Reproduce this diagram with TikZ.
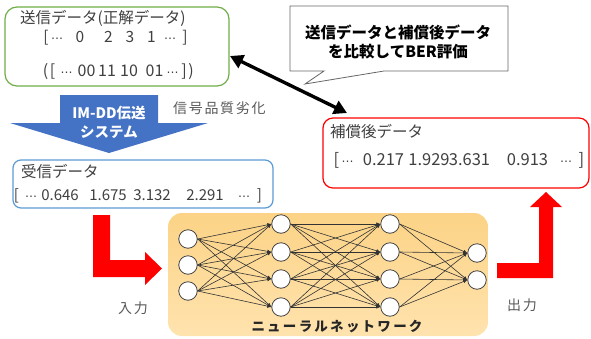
\documentclass[tikz,border=0pt]{standalone}
\usepackage{fontspec}
\setmainfont{Noto Sans CJK JP}
\newfontfamily\jpwide[LetterSpace=12]{Noto Sans CJK JP}
\newfontfamily\dejavu{DejaVu Sans}
\usetikzlibrary{arrows.meta}
\definecolor{grn}{HTML}{70AD47}
\definecolor{bluebox}{HTML}{5B9BD5}
\definecolor{bluearrow}{HTML}{4472C4}
\definecolor{txtgray}{HTML}{404040}
\definecolor{lblgray}{HTML}{595959}
\definecolor{nntop}{HTML}{FCD386}
\definecolor{nnbot}{HTML}{FFE3AE}
\newcommand\dotsmid{{\dejavu\fontsize{12}{14}\selectfont ⋯}}
\tikzset{
  txt/.style={inner sep=0pt, anchor=west, text=txtgray, font=\fontsize{15.5}{17}\selectfont},
  tok/.style={inner sep=0pt, anchor=base, text=txtgray},
  lbl/.style={inner sep=0pt, text=lblgray, font=\jpwide\fontsize{14}{16}\selectfont},
  frame/.style={line width=1.2pt, fill=white},
  neuron/.style={circle, draw=black!75, fill=white, line width=0.8pt, minimum size=18.5pt, inner sep=0pt},
  syn/.style={draw=black!80, line width=0.6pt, -{Latex[length=4pt,width=3.5pt]}},
  redarrow/.style={fill=red, draw=none},
}
\begin{document}
\begin{tikzpicture}[x=1pt,y=-1pt]
\useasboundingbox (0,0) rectangle (591,338);

% green box: transmitted data
\draw[frame, draw=grn, rounded corners=12pt] (5,7) rectangle (229,86);
\node (sendbox) at (117,46.5) {};
\node[txt] (sendtitle) at (20,18) {送信データ(正解データ)};
\foreach \k/\x/\t in {1/46/{[},2/57/{\dotsmid},3/80/0,4/108.5/2,5/130/3,6/151.5/1,7/170/{\dotsmid},8/185/{]}}
  \node[tok, font=\fontsize{15.5}{17}\selectfont] (sv\k) at (\x,42.5) {\t};
\foreach \k/\x/\t in {1/45.5/{(},2/52.5/{[},3/66.5/{\dotsmid},4/86.5/00,5/107/11,6/129/10,7/154.5/01,8/172.5/{\dotsmid},9/184/{]},10/191/{)}}
  \node[tok, font=\fontsize{16}{18}\selectfont] (sb\k) at (\x,76) {\t};

% callout
\draw[draw=black!60, line width=0.8pt, fill=white]
  (290,6) -- (508,6) -- (508,71) -- (384,71) -- (305,84) -- (324,71) -- (290,71) -- cycle;
\node[inner sep=0pt, align=center, font=\bfseries\fontsize{15.5}{19.5}\selectfont, text=black] (callout) at (398,42)
  {送信データと補償後データ\\を比較してBER評価};

% blue block arrow
\draw[fill=bluearrow, draw=none] (60,95) -- (158,95) -- (158,123) -- (208,123) -- (109,153) -- (10,123) -- (60,123) -- cycle;
\node[inner sep=0pt, align=center, text=white, font=\bfseries\fontsize{14.5}{19}\selectfont] (imdd) at (109,122)
  {IM-DD伝送\\システム};
\node[lbl, anchor=west] (degr) at (173,108) {信号品質劣化};

% blue box: received data
\draw[frame, draw=bluebox, rounded corners=8pt] (13,160) rectangle (273,208);
\node (recvbox) at (143,184) {};
\node[txt] (recvtitle) at (21,172) {受信データ};
\foreach \k/\x/\t in {1/16.5/{[},2/31/{\dotsmid},3/60/0.646,4/108/1.675,5/152/3.132,6/205/2.291,7/244/{\dotsmid},8/259.5/{]}}
  \node[tok, font=\fontsize{15}{17}\selectfont] (rv\k) at (\x,200.5) {\t};

% red box: compensated data
\draw[frame, draw=red, rounded corners=10pt] (323,118) rectangle (589,188);
\node (compbox) at (456,153) {};
\node[txt] (comptitle) at (330,132) {補償後データ};
\foreach \k/\x/\t in {1/336.5/{[},2/347.5/{\dotsmid},3/383.5/0.217,4/429/1.929,5/469.5/3.631,6/527.5/0.913,7/566/{\dotsmid},8/581.5/{]}}
  \node[tok, font=\fontsize{16.5}{18}\selectfont] (cv\k) at (\x,165) {\t};

% double arrow (compare)
\coordinate (cmpA) at (230,56);
\coordinate (cmpB) at (347,113);
\draw[line width=3.4pt, {Triangle[length=13pt,width=14pt]}-{Triangle[length=13pt,width=14pt]}] (cmpA) -- (cmpB);

% neural network background
\shade[top color=nntop, bottom color=nnbot, rounded corners=14pt] (168,213) rectangle (488,336);
\node[inner sep=0pt, font=\bfseries\fontsize{13.5}{15}\selectfont, text=black!85] (nntitle) at (337,327)
  {ニ\,ュ\,ー\,ラ\,ル\,ネ\,ッ\,ト\,ワ\,ー\,ク};

% neurons
\foreach \i/\y in {1/239,2/265,3/291}
  \node[neuron] (a\i) at (188,\y) {};
\foreach \i/\y in {1/224,2/252,3/279,4/307}
  \node[neuron] (b\i) at (281,\y) {};
\foreach \i/\y in {1/224,2/252,3/279,4/307}
  \node[neuron] (c\i) at (390,\y) {};
\foreach \i/\y in {1/253,2/280}
  \node[neuron] (d\i) at (477,\y) {};

% synapses
\foreach \i in {1,2,3}
  \foreach \j in {1,2,3,4}
    \draw[syn] (a\i.east) -- (b\j.west);
\foreach \i in {1,2,3,4}
  \foreach \j in {1,2,3,4}
    \draw[syn] (b\i.east) -- (c\j.west);
\foreach \i in {1,2,3,4}
  \foreach \j in {1,2}
    \draw[syn] (c\i.east) -- (d\j.west);

% red L arrows
\draw[redarrow] (93,215) -- (110,215) -- (110,260) -- (145,260) -- (145,252) -- (162,268.5) -- (145,285) -- (145,277) -- (93,277) -- cycle;
\draw[redarrow] (497,263) -- (539,263) -- (539,207) -- (530,207) -- (546,192) -- (562,207) -- (553,207) -- (553,278) -- (497,278) -- cycle;

\node[lbl] (inlbl) at (133,308) {入力};
\node[lbl] (outlbl) at (522,305) {出力};
\end{tikzpicture}
\end{document}
